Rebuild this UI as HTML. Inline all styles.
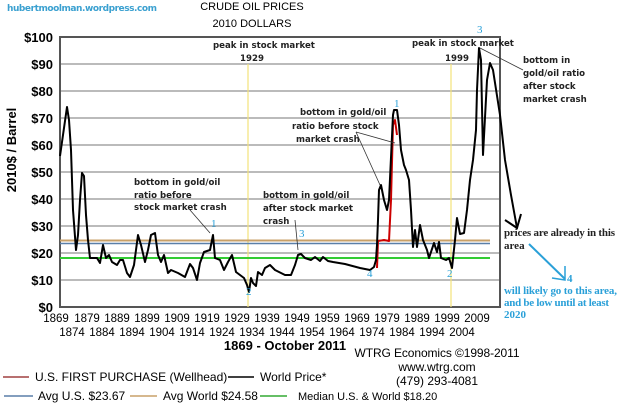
<!DOCTYPE html>
<html><head><meta charset="utf-8"><style>
body{margin:0;background:#fff;width:620px;height:411px;overflow:hidden}
svg{font-family:"Liberation Sans",sans-serif}
.a{font-family:"DejaVu Sans","Liberation Sans",sans-serif;font-size:8.6px;font-weight:bold;fill:#222}
.yl{font-size:13px;font-weight:bold;text-anchor:end}
.xl{font-size:11.5px;text-anchor:middle}
.lg{font-size:12px}
.b{fill:#2aa0d8;font-size:11px}
.s{font-family:"Liberation Serif",serif;font-weight:bold;font-size:11px}
</style></head><body>
<svg width="620" height="411" viewBox="0 0 620 411">
<text x="7" y="11" font-size="9" font-weight="bold" fill="#3aa0d0" font-family="DejaVu Sans,sans-serif" textLength="150">hubertmoolman.wordpress.com</text>
<text x="252" y="10" font-size="11" text-anchor="middle">CRUDE OIL PRICES</text>
<text x="252" y="27" font-size="11" text-anchor="middle">2010 DOLLARS</text>
<g stroke="#777" stroke-width="1">
<line x1="60" y1="64" x2="500" y2="64"/><line x1="60" y1="91" x2="500" y2="91"/>
<line x1="60" y1="118" x2="500" y2="118"/><line x1="60" y1="145" x2="500" y2="145"/>
<line x1="60" y1="172" x2="500" y2="172"/><line x1="60" y1="199" x2="500" y2="199"/>
<line x1="60" y1="226" x2="500" y2="226"/><line x1="60" y1="253" x2="500" y2="253"/>
<line x1="60" y1="280" x2="500" y2="280"/>
</g>
<rect x="60" y="37" width="440" height="270" fill="none" stroke="#555" stroke-width="2"/>
<line x1="248" y1="64" x2="248" y2="307" stroke="#f3e27a" stroke-width="1.2"/>
<line x1="451" y1="64" x2="451" y2="307" stroke="#f3e27a" stroke-width="1.2"/>
<line x1="60" y1="240.5" x2="490" y2="240.5" stroke="#c8a068" stroke-width="2"/>
<line x1="60" y1="243.5" x2="490" y2="243.5" stroke="#5a7fa8" stroke-width="1.5"/>
<line x1="60" y1="258" x2="490" y2="258" stroke="#33cc33" stroke-width="2"/>
<g class="yl">
<text x="53" y="42">$100</text><text x="53" y="69">$90</text><text x="53" y="96">$80</text><text x="53" y="123">$70</text>
<text x="53" y="150">$60</text><text x="53" y="177">$50</text><text x="53" y="204">$40</text><text x="53" y="231">$30</text>
<text x="53" y="258">$20</text><text x="53" y="285">$10</text><text x="53" y="312">$0</text>
</g>
<text transform="translate(16,150) rotate(-90)" font-size="13" font-weight="bold" text-anchor="middle">2010$ / Barrel</text>
<g class="xl">
<text x="56" y="322">1869</text><text x="87" y="322">1879</text><text x="117" y="322">1889</text><text x="147" y="322">1899</text>
<text x="177" y="322">1909</text><text x="207" y="322">1919</text><text x="237" y="322">1929</text><text x="267" y="322">1939</text>
<text x="297" y="322">1949</text><text x="327" y="322">1959</text><text x="357" y="322">1969</text><text x="387" y="322">1979</text>
<text x="417" y="322">1989</text><text x="447" y="322">1999</text><text x="477" y="322">2009</text>
<text x="72" y="336">1874</text><text x="102" y="336">1884</text><text x="132" y="336">1894</text><text x="162" y="336">1904</text>
<text x="192" y="336">1914</text><text x="222" y="336">1924</text><text x="252" y="336">1934</text><text x="282" y="336">1944</text>
<text x="312" y="336">1954</text><text x="342" y="336">1964</text><text x="372" y="336">1974</text><text x="402" y="336">1984</text>
<text x="432" y="336">1994</text><text x="462" y="336">2004</text>
</g>
<text x="285" y="350" font-size="13" font-weight="bold" text-anchor="middle">1869 - October 2011</text>
<g fill="none" stroke-linejoin="round">
<polyline stroke="#c00" stroke-width="2" points="377,268 378,241 384,240 389,241 391,200 393,125 395,120 397,135"/>
<polyline stroke="#000" stroke-width="2" points="60,156 63,135 67,107 69,120 71,150 73,210 76,250 78,235 80,200 82,173 84,176 86,215 88,240 90,258 97,258 100,263 103,245 106,258 109,255 112,262 117,265 120,260 123,260 127,273 130,277 134,265 138,235 141,245 145,262 148,250 151,235 155,233 158,255 161,262 164,255 168,273 171,270 178,273 185,277 190,264 193,268 197,280 200,263 204,252 210,250 213,235 215,258 220,260 224,270 228,262 232,255 236,272 240,275 244,278 247,285 249,292 251,278 253,283 256,286 258,272 262,275 265,268 270,265 275,270 285,275 291,275 295,265 298,255 301,254 305,258 311,260 315,257 320,261 323,257 328,261 333,262 345,264 360,268 370,270 374,267 376,260 377,245 378,220 379,190 381,185 384,200 387,210 389,200 393,115 394,110 397,110 399,125 401,150 404,165 406,170 409,180 411,210 413,247 415,230 417,247 420,225 423,240 427,250 429,258 434,243 437,252 439,242 441,258 446,260 449,258 452,268 455,240 457,218 460,234 464,233 467,210 470,180 473,160 476,130 477,90 479,48 481,60 483,155 487,80 490,63 493,70 500,115 505,160 511,195 517,228"/>
</g>
<g class="a">
<text x="213" y="48">peak in stock market</text><text x="240" y="61">1929</text>
<text x="412" y="46">peak in stock market</text><text x="445" y="61">1999</text>
<text x="523" y="63">bottom in</text><text x="523" y="76">gold/oil ratio</text><text x="523" y="89">after stock</text><text x="523" y="102">market crash</text>
<text x="300" y="115">bottom in gold/oil</text><text x="292" y="129">ratio  before stock</text><text x="296" y="142">market crash</text>
<text x="134" y="185">bottom in gold/oil</text><text x="134" y="198">ratio   before</text><text x="134" y="210">stock market crash</text>
<text x="263" y="198">bottom in gold/oil</text><text x="263" y="211">after stock market</text><text x="263" y="224">crash</text>
</g>
<g stroke="#333" stroke-width="0.8" fill="none">
<line x1="190" y1="210" x2="210" y2="233"/><line x1="356" y1="132" x2="395" y2="143"/>
<line x1="356" y1="132" x2="380" y2="185"/><line x1="523" y1="70" x2="480" y2="48"/>
<line x1="295" y1="220" x2="298" y2="250"/>
</g>
<polyline points="505,220 517,228 521,214" fill="none" stroke="#000" stroke-width="2"/>
<g class="b" font-family="Liberation Serif,serif">
<text x="211" y="227">1</text><text x="246" y="295">2</text><text x="299" y="237">3</text>
<text x="394" y="107">1</text><text x="367" y="277">4</text><text x="447" y="277">2</text><text x="477" y="33">3</text>
</g>
<text x="504" y="236" class="s" fill="#222" textLength="111">prices are already in this</text>
<text x="504" y="249" class="s" fill="#222">area</text>
<line x1="529" y1="244" x2="565" y2="279" stroke="#2aa0d8" stroke-width="2"/>
<polyline points="552,278 565,280 565,266" fill="none" stroke="#2aa0d8" stroke-width="1.5"/>
<text x="567" y="282" class="s" fill="#2aa0d8">4</text>
<text x="504" y="294" class="s" fill="#2aa0d8" textLength="113">will likely go to this area,</text>
<text x="504" y="306" class="s" fill="#2aa0d8" textLength="105">and be low until at least</text>
<text x="504" y="318" class="s" fill="#2aa0d8">2020</text>
<text x="437" y="357" font-size="12" text-anchor="middle" textLength="165">WTRG Economics  ©1998-2011</text>
<text x="437" y="371" font-size="12" text-anchor="middle">www.wtrg.com</text>
<text x="437" y="385" font-size="12" text-anchor="middle">(479) 293-4081</text>
<line x1="3" y1="377" x2="29" y2="377" stroke="#a04040" stroke-width="1.5"/>
<text x="35" y="381" class="lg">U.S. FIRST PURCHASE (Wellhead)</text>
<line x1="228" y1="377" x2="254" y2="377" stroke="#000" stroke-width="1.5"/>
<text x="260" y="381" class="lg">World Price*</text>
<line x1="4" y1="396" x2="33" y2="396" stroke="#5a7fa8" stroke-width="1.5"/>
<text x="38" y="400" class="lg">Avg U.S. $23.67</text>
<line x1="130" y1="396" x2="157" y2="396" stroke="#c8a068" stroke-width="1.5"/>
<text x="163" y="400" class="lg">Avg World $24.58</text>
<line x1="260" y1="396" x2="287" y2="396" stroke="#33aa33" stroke-width="1.5"/>
<text x="298" y="400" font-size="11">Median U.S. &amp; World  $18.20</text>
</svg>
</body></html>
